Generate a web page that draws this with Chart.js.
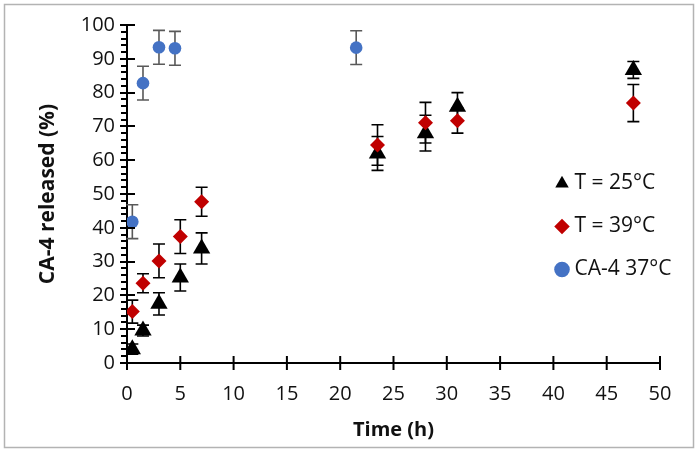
<!DOCTYPE html>
<html>
<head>
<meta charset="utf-8">
<script src="https://cdn.jsdelivr.net/npm/chart.js@4.4.1/dist/chart.umd.min.js"></script>
<style>
  html, body { margin: 0; padding: 0; background: #fff; }
  #wrap { width: 700px; height: 454px; position: relative; }
</style>
</head>
<body>
<div id="wrap"><canvas id="release_plot"></canvas></div>
<script>
// values
const hours_25 = [0.5, 1.5, 3, 5, 7, 23.5, 28, 31, 47.5];
const released_25 = [4.1, 9.6, 17.5, 25.3, 33.9, 62.0, 68.0, 75.8, 86.7];
const err_25 = [1.5, 1.6, 3.3, 4.0, 4.6, 5.0, 5.3, 4.2, 2.5];

const hours_39 = [0.5, 1.5, 3, 5, 7, 23.5, 28, 31, 47.5];
const released_39 = [15.2, 23.6, 30.2, 37.4, 47.7, 64.5, 71.1, 71.7, 76.9];
const err_39 = [3.4, 2.8, 5.0, 5.0, 4.3, 6.0, 6.0, 3.7, 5.5];

const hours_ca4 = [0.5, 1.5, 3, 4.5, 21.5];
const released_ca4 = [41.8, 82.8, 93.4, 93.1, 93.3];
const err_ca4 = [5, 5, 5, 5, 5];

const series_labels = ['T = 25°C', 'T = 39°C', 'CA-4 37°C'];

const FONT = "'Open Sans', sans-serif";

function toPoints(xs, ys) {
  return xs.map((x, i) => ({x: x, y: ys[i]}));
}

// vertical error bars with caps
const errorBarPlugin = {
  id: 'errorBars',
  beforeDatasetDraw(chart, args) {
    const ds = chart.data.datasets[args.index];
    if (!ds.errorBars) return;
    const ctx = chart.ctx;
    const xs = chart.scales.x, ys = chart.scales.y;
    ctx.save();
    ctx.strokeStyle = ds.errorColor;
    ctx.lineWidth = 1.6;
    ds.data.forEach((p, i) => {
      const e = ds.errorBars[i];
      const px = xs.getPixelForValue(p.x);
      const top = ys.getPixelForValue(p.y + e);
      const bot = ys.getPixelForValue(p.y - e);
      ctx.beginPath();
      ctx.moveTo(px, top); ctx.lineTo(px, bot);
      ctx.moveTo(px - 6, top); ctx.lineTo(px + 6, top);
      ctx.moveTo(px - 6, bot); ctx.lineTo(px + 6, bot);
      ctx.stroke();
    });
    ctx.restore();
  }
};

// tick marks that cross the axes, minor ticks on y
const axisTicksPlugin = {
  id: 'axisTicks',
  afterDatasetsDraw(chart) {
    const ctx = chart.ctx;
    const xs = chart.scales.x, ys = chart.scales.y;
    const x0 = xs.getPixelForValue(0);
    const y0 = ys.getPixelForValue(0);
    ctx.save();
    ctx.strokeStyle = '#000';
    ctx.lineWidth = 2;
    ctx.beginPath();
    xs.ticks.forEach(t => {
      const px = xs.getPixelForValue(t.value);
      ctx.moveTo(px, y0 - 7); ctx.lineTo(px, y0 + 7);
    });
    for (let v = 0; v <= 100; v += 2) {
      const py = Math.round(ys.getPixelForValue(v));
      if (v % 10 === 0) {
        ctx.moveTo(x0 - 7, py); ctx.lineTo(x0 + 8, py);
      } else {
        ctx.moveTo(x0 - 6, py); ctx.lineTo(x0, py);
      }
    }
    ctx.stroke();
    ctx.restore();
  }
};

// outer frame + legend placed inside the plot
const framePlugin = {
  id: 'frame',
  afterLayout(chart) {
    const lg = chart.legend;
    const left = 538, top = 151;
    lg.left = left; lg.top = top;
    lg.right = left + lg.width; lg.bottom = top + lg.height;
  },
  beforeDraw(chart) {
    const ctx = chart.ctx;
    ctx.save();
    ctx.fillStyle = '#fff';
    ctx.fillRect(0, 0, chart.width, chart.height);
    ctx.strokeStyle = '#b3b3b3';
    ctx.lineWidth = 1.5;
    ctx.strokeRect(4.5, 4.5, 689, 443);
    ctx.restore();
  }
};

const release_chart = new Chart(
  document.querySelector('#release_plot'),
  {
    type: 'scatter',
    data: {
      datasets: [
        {
          label: series_labels[0],
          data: toPoints(hours_25, released_25),
          errorBars: err_25,
          errorColor: '#000',
          pointStyle: 'triangle',
          pointRadius: 10,
          backgroundColor: '#000',
          borderColor: '#000',
          borderWidth: 0,
          order: 3
        },
        {
          label: series_labels[1],
          data: toPoints(hours_39, released_39),
          errorBars: err_39,
          errorColor: '#000',
          pointStyle: 'rectRot',
          pointRadius: 7.5,
          backgroundColor: '#c00000',
          borderColor: '#c00000',
          borderWidth: 0,
          order: 2
        },
        {
          label: series_labels[2],
          data: toPoints(hours_ca4, released_ca4),
          errorBars: err_ca4,
          errorColor: '#595959',
          pointStyle: 'circle',
          pointRadius: 6.3,
          backgroundColor: '#4472c4',
          borderColor: '#4472c4',
          borderWidth: 0,
          order: 1
        }
      ]
    },
    options: {
      responsive: true,
      maintainAspectRatio: false,
      animation: false,
      layout: {
        padding: {left: 5, right: 40, top: 25, bottom: 5}
      },
      scales: {
        x: {
          type: 'linear',
          position: 'bottom',
          min: 0,
          max: 50,
          afterFit: (scale) => { scale.height = 86; },
          grid: {display: false, drawTicks: false},
          border: {display: true, color: '#000', width: 2},
          ticks: {
            stepSize: 5,
            padding: 19,
            color: '#111',
            font: {family: FONT, size: 20}
          },
          title: {
            display: true,
            text: 'Time (h)',
            color: '#111',
            font: {family: FONT, size: 20, weight: 'bold', lineHeight: 1.2},
            padding: {top: 0, bottom: 7}
          }
        },
        y: {
          type: 'linear',
          min: 0,
          max: 100,
          afterFit: (scale) => { scale.width = 122; },
          grid: {display: false, drawTicks: false},
          border: {display: true, color: '#000', width: 2},
          ticks: {
            stepSize: 10,
            padding: 12,
            color: '#111',
            font: {family: FONT, size: 20}
          },
          title: {
            display: true,
            text: 'CA-4 released (%)',
            color: '#111',
            font: {family: FONT, size: 21, weight: 'bold', lineHeight: 1.2},
            padding: {top: 30, bottom: 0}
          }
        }
      },
      plugins: {
        tooltip: {enabled: false},
        legend: {
          position: 'chartArea',
          align: 'start',
          reverse: true,
          labels: {
            usePointStyle: true,
            boxWidth: 4,
            boxHeight: 11,
            padding: 22,
            color: '#111',
            font: {family: FONT, size: 21}
          }
        }
      }
    },
    plugins: [errorBarPlugin, axisTicksPlugin, framePlugin]
  }
);
</script>
</body>
</html>
